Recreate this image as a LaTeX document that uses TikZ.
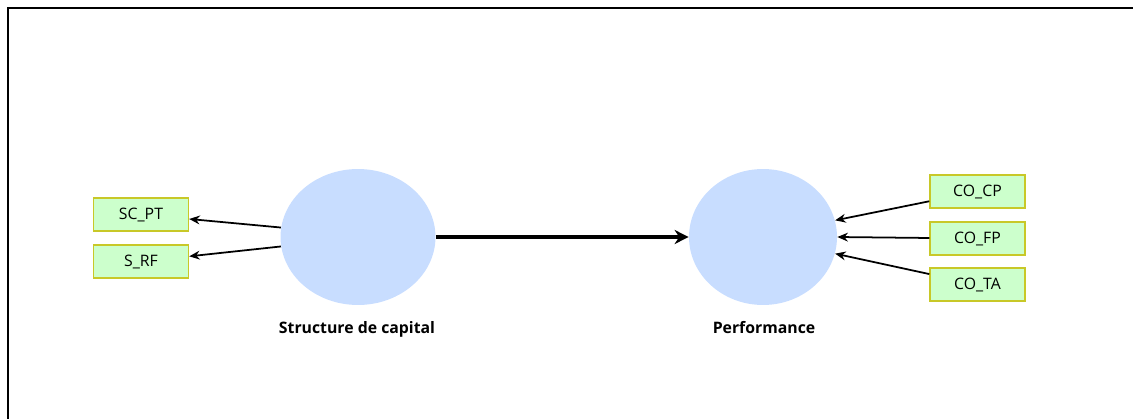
\documentclass[tikz,border=0pt]{standalone}
\usepackage{fontspec}
\setmainfont{Open Sans}
\usetikzlibrary{shapes.geometric,positioning,arrows.meta}
\tikzset{>={Stealth[length=6pt,width=5pt]}}
\definecolor{latentFill}{RGB}{200,221,255}
\definecolor{itemFill}{RGB}{204,255,204}
\definecolor{itemDraw}{RGB}{200,200,40}
\tikzset{
  latent/.style={ellipse,fill=latentFill,inner sep=0pt,minimum width=3.1cm,minimum height=2.72cm},
  item/.style={rectangle,draw=itemDraw,fill=itemFill,line width=0.8pt,minimum width=1.9cm,minimum height=0.66cm,inner sep=0pt,font=\fontsize{9}{10}\selectfont},
  label/.style={font=\bfseries\fontsize{9}{10}\selectfont},
  load/.style={->,line width=1pt},
}
\begin{document}
\begin{tikzpicture}[x=0.02cm,y=-0.02cm]
\useasboundingbox (0,0) rectangle (1133,419);
% frame
\draw[line width=1.4pt] (8,419) -- (8,8) -- (1133,8);
% latent variables
\node[latent] (struct) at (358,237) {};
\node[latent,minimum width=2.96cm] (perf) at (763,237) {};
\node[label] (structlab) at (357,329) {Structure de capital};
\node[label] (perflab) at (764,328) {Performance};
% indicators
\node[item] (scpt) at (141,214.5) {SC\_PT};
\node[item] (srf) at (141,261.5) {S\_RF};
\node[item] (cocp) at (977.5,191.5) {CO\_CP};
\node[item] (cofp) at (977.5,238.5) {CO\_FP};
\node[item] (cota) at (977.5,284.5) {CO\_TA};
% loadings
\draw[load] (struct.173) -- (scpt);
\draw[load] (struct.187) -- (srf);
\draw[load] (cocp) -- (perf.13);
\draw[load] (cofp) -- (perf.0);
\draw[load] (cota) -- (perf.347);
% path
\draw[-{Stealth[length=8pt,width=8pt]},line width=2.2pt] (struct) -- (perf);
\end{tikzpicture}
\end{document}
